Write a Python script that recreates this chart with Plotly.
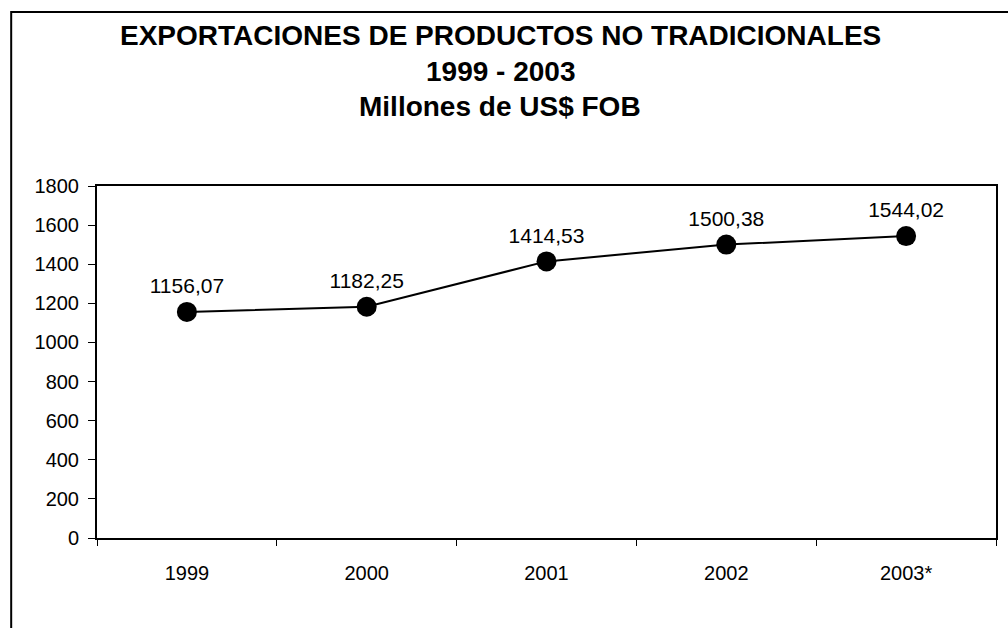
import plotly.graph_objects as go

years = ["1999", "2000", "2001", "2002", "2003*"]
values = [1156.07, 1182.25, 1414.53, 1500.38, 1544.02]
y_ticks = [0, 200, 400, 600, 800, 1000, 1200, 1400, 1600, 1800]
title_lines = ["EXPORTACIONES DE PRODUCTOS NO TRADICIONALES", "1999 - 2003", "Millones de US$ FOB"]

FONT = "Liberation Sans, Arial, sans-serif"

fig = go.Figure()
fig.add_trace(go.Scatter(
    x=years, y=values,
    mode="lines+markers+text",
    line=dict(color="black", width=2),
    marker=dict(color="black", size=20),
    texttemplate="%{y:.2f}",
    textposition="top center",
    textfont=dict(family=FONT, size=21, color="black"),
    cliponaxis=False,
    showlegend=False,
))

L, T, R, B = 97, 186, 998, 538
W, H = 1008, 628
pw, ph = R - L, B - T

def px(xp):
    return (xp - L) / pw

def py(yp):
    return (B - yp) / ph

title_y = [35, 71, 106]
annotations = [
    dict(text="<b>%s</b>" % t, xref="paper", yref="paper", x=px(501), y=py(yy),
         xanchor="center", yanchor="middle", showarrow=False,
         font=dict(family=FONT, size=28, color="black"))
    for t, yy in zip(title_lines, title_y)
]

fig.update_layout(
    width=W, height=H,
    margin=dict(l=L, r=W - R, t=T, b=H - B, pad=0),
    paper_bgcolor="white", plot_bgcolor="white",
    separators=", ",
    font=dict(family=FONT, size=20, color="black"),
    annotations=annotations,
    xaxis=dict(
        type="category", range=[-0.5, 4.5],
        tickson="boundaries", ticks="outside", ticklen=6, tickwidth=1, tickcolor="black",
        ticklabelstandoff=16,
        showline=True, linecolor="black", linewidth=2, mirror=True,
        showgrid=False, zeroline=False,
        tickfont=dict(family=FONT, size=20, color="black"),
    ),
    yaxis=dict(
        range=[0, 1800], tickvals=y_ticks,
        ticks="outside", ticklen=7, tickwidth=1, tickcolor="black",
        ticklabelstandoff=5,
        showline=True, linecolor="black", linewidth=2, mirror=True,
        showgrid=False, zeroline=False,
        tickfont=dict(family=FONT, size=20, color="black"),
    ),
    shapes=[dict(
        type="rect", xref="paper", yref="paper",
        x0=px(11), x1=px(1030), y0=py(660), y1=py(12),
        line=dict(color="black", width=2), fillcolor="rgba(0,0,0,0)", layer="below",
    )],
)

fig.write_html("out.html", config={"displayModeBar": False},
               post_script="document.body.style.margin='0';document.body.style.overflow='hidden';")
